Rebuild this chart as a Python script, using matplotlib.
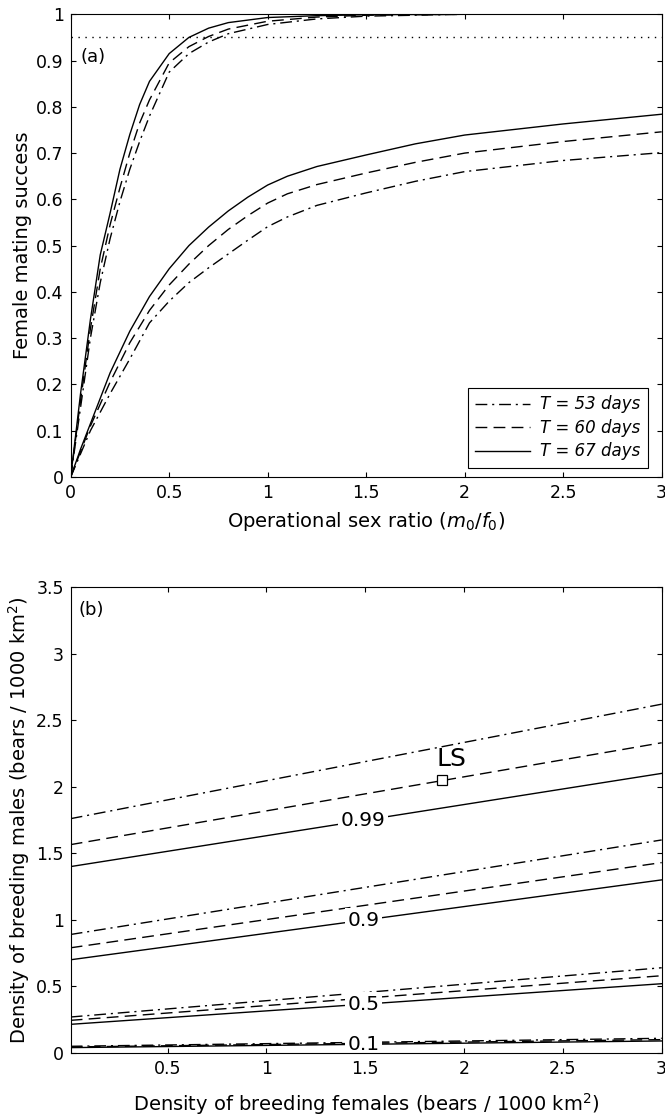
import numpy as np
import matplotlib
matplotlib.use('Agg')
import matplotlib.pyplot as plt

plt.rcParams['font.family'] = ['DejaVu Sans']
plt.rcParams['mathtext.fontset'] = 'dejavusans'

# ---- panel (a): female mating success vs operational sex ratio ----
x_steep = [0, 0.05, 0.1, 0.15, 0.2, 0.25, 0.3, 0.35, 0.4, 0.5, 0.6, 0.7, 0.8, 1.0, 1.25, 1.5, 2.0]
steep_53 = [0, 0.15, 0.30, 0.42, 0.515, 0.595, 0.665, 0.725, 0.78, 0.875, 0.915, 0.94, 0.958, 0.978, 0.99, 0.996, 1.0]
steep_60 = [0, 0.165, 0.32, 0.45, 0.545, 0.625, 0.70, 0.765, 0.815, 0.895, 0.93, 0.952, 0.968, 0.985, 0.994, 0.998, 1.0]
steep_67 = [0, 0.18, 0.34, 0.48, 0.57, 0.665, 0.74, 0.805, 0.855, 0.915, 0.95, 0.97, 0.982, 0.993, 0.997, 0.999, 1.0]

x_slow = [0, 0.05, 0.1, 0.2, 0.3, 0.4, 0.5, 0.6, 0.7, 0.8, 0.9, 1.0, 1.1, 1.25, 1.5, 1.75, 2.0, 2.5, 3.0]
slow_53 = [0, 0.05, 0.10, 0.18, 0.255, 0.333, 0.38, 0.42, 0.452, 0.482, 0.512, 0.541, 0.562, 0.587, 0.614, 0.639, 0.66, 0.684, 0.701]
slow_60 = [0, 0.055, 0.11, 0.205, 0.29, 0.36, 0.415, 0.46, 0.50, 0.535, 0.565, 0.592, 0.612, 0.632, 0.657, 0.68, 0.70, 0.725, 0.746]
slow_67 = [0, 0.06, 0.115, 0.225, 0.315, 0.39, 0.45, 0.50, 0.54, 0.575, 0.605, 0.631, 0.650, 0.671, 0.696, 0.72, 0.739, 0.763, 0.784]

threshold = 0.95
T_labels = ['T = 53 days', 'T = 60 days', 'T = 67 days']

# ---- panel (b): contour lines of mating success (straight lines, end points) ----
x_dens = [0.01, 3.0]
levels = ['0.99', '0.9', '0.5', '0.1']
lines_53 = [[1.76, 2.62], [0.89, 1.60], [0.27, 0.64], [0.05, 0.11]]
lines_60 = [[1.565, 2.33], [0.79, 1.43], [0.245, 0.58], [0.045, 0.10]]
lines_67 = [[1.40, 2.10], [0.70, 1.30], [0.215, 0.52], [0.04, 0.09]]
label_x = 1.49
ls_point = (1.888, 2.05)

dashdot = (0, (8.5, 3.5, 1.5, 3.5))
dashed = (0, (8.5, 4.5))

fig = plt.figure(figsize=(6.65, 11.16), dpi=100)
ax1 = fig.add_axes([0.1063, 0.5726, 0.8887, 0.4146])
ax2 = fig.add_axes([0.1063, 0.0565, 0.8887, 0.4175])

lw = 1.0
ax1.plot(x_steep, steep_53, color='k', lw=lw, ls=dashdot)
ax1.plot(x_steep, steep_60, color='k', lw=lw, ls=dashed)
ax1.plot(x_steep, steep_67, color='k', lw=lw, ls='-')
h1, = ax1.plot(x_slow, slow_53, color='k', lw=lw, ls=dashdot)
h2, = ax1.plot(x_slow, slow_60, color='k', lw=lw, ls=dashed)
h3, = ax1.plot(x_slow, slow_67, color='k', lw=lw, ls='-')
ax1.axhline(threshold, color='k', lw=1.0, ls=(0, (1, 4)))

ax1.set_xlim(0, 3)
ax1.set_ylim(0, 1)
ax1.set_xticks([0, 0.5, 1, 1.5, 2, 2.5, 3])
ax1.set_xticklabels(['0', '0.5', '1', '1.5', '2', '2.5', '3'])
ax1.set_yticks([0, 0.1, 0.2, 0.3, 0.4, 0.5, 0.6, 0.7, 0.8, 0.9, 1])
ax1.set_yticklabels(['0', '0.1', '0.2', '0.3', '0.4', '0.5', '0.6', '0.7', '0.8', '0.9', '1'])
ax1.set_xlabel(r'Operational sex ratio ($m_0$/$f_0$)', fontsize=14)
ax1.set_ylabel('Female mating success', fontsize=14)
ax1.xaxis.set_label_coords(0.5, -0.072)
ax1.text(0.05, 0.908, '(a)', fontsize=13, va='center', ha='left')
leg = ax1.legend([h1, h2, h3], T_labels, loc='lower right',
                 bbox_to_anchor=(0.9768, 0.0195), borderaxespad=0,
                 fancybox=False, edgecolor='k', framealpha=1, handlelength=3.3,
                 prop={'style': 'italic', 'size': 12}, labelspacing=0.33,
                 borderpad=0.45, handletextpad=0.6)
leg.get_frame().set_linewidth(0.8)

for i in range(len(levels)):
    ax2.plot(x_dens, lines_53[i], color='k', lw=lw, ls=dashdot)
    ax2.plot(x_dens, lines_60[i], color='k', lw=lw, ls=dashed)
    ax2.plot(x_dens, lines_67[i], color='k', lw=lw, ls='-')
    y_lab = np.interp(label_x, x_dens, lines_67[i])
    # label sits below the spines so the axis frame stays visible
    ax2.text(label_x, y_lab, levels[i], fontsize=14.5, ha='center', va='center',
             bbox=dict(boxstyle='square,pad=0.12', fc='white', ec='none'), zorder=2.2)

ax2.plot([ls_point[0]], [ls_point[1]], marker='s', ms=7.2, mfc='white', mec='k', mew=0.9, zorder=6)
ax2.text(1.937, 2.205, 'LS', fontsize=18, ha='center', va='center')
ax2.text(0.05, 3.33, '(b)', fontsize=13, va='center', ha='left')

ax2.set_xlim(0.01, 3)
ax2.set_ylim(0, 3.5)
ax2.set_xticks([0.5, 1, 1.5, 2, 2.5, 3])
ax2.set_xticklabels(['0.5', '1', '1.5', '2', '2.5', '3'])
ax2.set_yticks([0, 0.5, 1, 1.5, 2, 2.5, 3, 3.5])
ax2.set_yticklabels(['0', '0.5', '1', '1.5', '2', '2.5', '3', '3.5'])
ax2.set_xlabel(r'Density of breeding females (bears / 1000 km$^2$)', fontsize=14)
ax2.set_ylabel(r'Density of breeding males (bears / 1000 km$^2$)', fontsize=14)
ax2.xaxis.set_label_coords(0.5, -0.082)

for ax in (ax1, ax2):
    ax.tick_params(direction='in', length=3.5, width=0.8, top=True, right=True,
                   labelsize=12.5, pad=5)
    for s in ax.spines.values():
        s.set_linewidth(0.8)
    ax.yaxis.set_label_coords(-0.066, 0.5)

fig.savefig('out.png', dpi=100)
